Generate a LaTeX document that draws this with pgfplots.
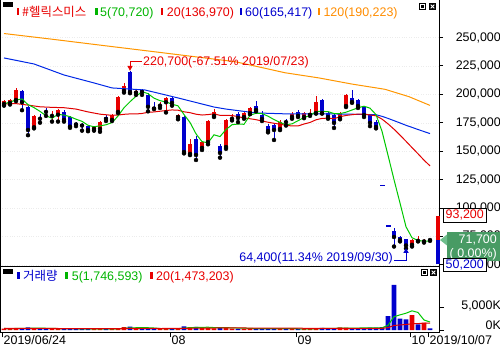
\documentclass[border=0pt]{standalone}
\usepackage{pgfplots}
\pgfplotsset{compat=1.18}
\usepackage{pgfplotstable}
\usepackage{fontspec}
\setmainfont{Liberation Sans}
\newfontfamily\kr{Noto Sans CJK KR}
\newcommand{\fs}{\fontsize{12.5}{14}\selectfont}
\definecolor{cr}{RGB}{232,0,0}
\definecolor{cb}{RGB}{0,0,205}
\definecolor{ma5}{RGB}{0,200,0}
\definecolor{ma20}{RGB}{225,0,0}
\definecolor{ma60}{RGB}{0,40,230}
\definecolor{ma120}{RGB}{255,150,0}
\definecolor{tgreen}{RGB}{0,180,0}
\definecolor{torange}{RGB}{255,140,0}
\definecolor{gbox}{RGB}{72,155,100}
\definecolor{gtri}{RGB}{110,190,140}

\pgfplotstableread{
i o h l c
0 191500 195000 190000 194000
1 192400 196000 191000 195000
2 195000 205800 194000 203800
5 171000 182000 170000 181000
8 181000 185000 176000 182000
9 182000 187000 176000 186000
15 169500 171500 168000 171000
16 169500 176500 167000 175500
18 177500 183000 176500 182000
19 184500 198500 183500 197500
20 203000 210000 201500 207500
22 201500 204500 199500 202500
26 190000 193000 188000 191000
27 193000 197500 184000 196800
29 180000 182500 178000 181500
31 147500 160700 146500 156300
33 152800 159000 151000 158000
34 158000 177500 156000 176500
35 181000 187000 180000 184400
37 153600 178500 152000 177400
38 178500 182500 177000 179500
40 180000 184500 178500 183500
41 183500 189000 182500 188000
46 169500 177000 168500 175600
48 180000 184000 178500 182700
50 180000 184500 179000 183500
51 182000 187000 181000 183600
52 183500 198500 183000 193200
56 179000 184500 178000 183500
57 189700 200000 188800 199400
68 67500 72500 66000 71700
69 71000 75500 70500 71900
70 70500 72500 69500 71400
}\redc

\pgfplotstableread{
i o h l c
3 203000 204000 186000 193000
4 189000 190000 164000 168600
6 179500 183000 175000 178500
7 185500 188000 181000 184500
10 184500 186000 176000 177500
11 180000 181000 170500 171500
12 174500 176000 172000 173500
13 173500 175000 168000 172500
14 172000 173000 167500 168600
17 180000 181500 176500 178300
21 219500 220700 201000 202000
23 203500 205000 199500 202000
24 199500 201000 185000 189000
25 188500 193000 187000 187500
28 196800 197500 190000 192400
30 180000 181000 148000 149200
32 160700 163000 142200 146600
36 154500 156000 144200 148400
39 182700 184000 175500 179200
42 189700 194400 185000 186200
43 181800 185000 176500 178300
44 172000 174000 166500 167700
45 173000 174000 159800 168600
47 176500 178500 172500 175500
49 184400 186000 180000 181000
53 195000 196000 183000 183500
54 183500 184500 178500 180000
55 181800 183000 170400 174800
58 196800 203800 192500 193200
59 195000 196000 188000 189700
60 188800 190000 180000 181800
61 181800 182500 172000 174800
62 175600 177000 170000 171200
65 79700 82000 66000 74400
66 74400 75500 70500 71700
67 72700 73000 64400 66900
71 72600 72600 71000 71700
}\bluec

\pgfplotstableread{
i v
0 320
1 260
2 380
5 420
8 250
9 300
15 220
16 250
18 260
19 420
20 600
22 420
26 240
27 300
29 380
31 600
33 420
34 560
35 380
37 640
38 300
40 280
41 330
46 280
48 260
50 230
51 260
52 430
56 560
57 520
68 3250
70 1590
}\redv

\pgfplotstableread{
i v
3 340
4 560
6 300
7 280
10 270
11 310
12 240
13 230
14 260
17 240
21 760
23 330
24 380
25 280
28 330
30 780
32 700
36 520
39 260
42 300
43 280
44 330
45 360
47 220
49 240
53 480
54 280
55 330
58 420
59 330
60 400
61 520
62 520
63 640
64 3000
65 9800
66 2500
67 2300
69 1230
71 363
}\bluev

\begin{document}
\begin{tikzpicture}[x=1bp,y=1bp]
\path[use as bounding box] (0,0) rectangle (500,350);
\coordinate (pa) at (0,84);
\coordinate (va) at (0,18);

% ---------- price panel ----------
\begin{axis}[
  at={(pa)}, anchor=south west,
  scale only axis, width=439bp, height=266bp,
  xmin=-0.667, xmax=72.5, ymin=48856, ymax=283011,
  axis line style={black, line width=1bp},
  xtick=\empty,
  ytick={50000,75000,100000,125000,150000,175000,200000,225000,250000},
  ytick pos=right, yticklabel pos=right,
  tick align=outside, major tick length=4bp,
  every tick/.style={black, line width=0.8bp},
  scaled y ticks=false,
  yticklabel style={font=\fs, anchor=east, inner sep=0pt, xshift=58bp},
  /pgf/number format/fixed, /pgf/number format/1000 sep={,},
  /pgf/number format/assume math mode=true,
  ymajorgrids, major grid style={gray!15, dotted},
  clip=false,
]
% wicks
\addplot[forget plot, only marks, mark=none, error bars/.cd, y dir=plus, y explicit, error mark=none,
  error bar style={draw=cr, line width=1bp}] table[x=i, y=l, y error expr=\thisrow{h}-\thisrow{l}] {\redc};
\addplot[forget plot, only marks, mark=none, error bars/.cd, y dir=plus, y explicit, error mark=none,
  error bar style={draw=cb, line width=1bp}] table[x=i, y=l, y error expr=\thisrow{h}-\thisrow{l}] {\bluec};
% bodies
\addplot[forget plot, only marks, mark=none, error bars/.cd, y dir=plus, y explicit, error mark=none,
  error bar style={draw=cr, line width=4.8bp}] table[x=i, y=o, y error expr=\thisrow{c}-\thisrow{o}] {\redc};
\addplot[forget plot, only marks, mark=none, error bars/.cd, y dir=plus, y explicit, error mark=none,
  error bar style={draw=cb, line width=4.8bp}] table[x=i, y=c, y error expr=\thisrow{o}-\thisrow{c}] {\bluec};
% limit-down dashes
\addplot[forget plot, only marks, mark=-, mark size=2.5bp, cb, mark options={line width=1.3bp}]
  coordinates {(63,119900) (64,83950)};
% MA120
\addplot[ma120, line width=1bp, mark=none] coordinates {
(0,253500) (8,248500) (16.3,243100) (24.7,237700) (33,232300) (38.5,228700) (41.3,225500)
(46.8,219000) (52.5,214400) (58,209000) (63.5,204400) (67.5,197900) (71,190223)};
% MA60
\addplot[ma60, line width=1bp, mark=none] coordinates {
(0,232000) (5,226700) (10,217000) (15,210000) (18,205600) (23.5,203800) (29,196800) (35,188800)
(37,187000) (42,183600) (47.5,182700) (55,182700) (60,182300) (62,182000) (63,180600) (64,178800)
(65,176800) (66,174800) (67,172700) (68,170900) (69,169000) (70,167200) (71,165417)};
% MA20
\addplot[ma20, line width=1bp, mark=none] coordinates {
(0,191500) (2,191800) (4,190500) (6,189000) (8,188500) (10,188200) (12,187000) (14,184500) (16,182500)
(18,181500) (19,181720) (20,182390) (21,182740) (22,182680) (23,183130) (24,184150) (25,184470)
(26,185100) (27,185710) (28,186230) (29,186010) (30,184590) (31,183830) (32,182490) (33,181760)
(34,182160) (35,182830) (36,181470) (37,181430) (38,181300) (39,180390) (40,179190) (41,178490)
(42,177670) (43,176490) (44,175420) (45,174480) (46,173710) (47,172640) (48,172160) (49,172130)
(50,173850) (51,175210) (52,177540) (53,178820) (54,178990) (55,178510) (56,180270) (57,181370)
(58,182050) (59,182580) (60,182490) (61,181830) (62,181080) (63,178160) (64,173980) (65,169270)
(66,164070) (67,158640) (68,153090) (69,147640) (70,142030) (71,136970)};
% MA5
\addplot[ma5, line width=1bp, mark=none] coordinates {
(0,191500) (1,193200) (2,195000) (3,195900) (4,190880) (5,188280) (6,184980) (7,181120) (8,178920)
(9,182400) (10,181700) (11,180300) (12,178100) (13,176200) (14,172720) (15,171420) (16,172220)
(17,173180) (18,175080) (19,180860) (20,188160) (21,193460) (22,198300) (23,202300) (24,200600)
(25,196600) (26,194400) (27,193260) (28,191340) (29,189840) (30,182180) (31,175240) (32,165200)
(33,158320) (34,157320) (35,164360) (36,162780) (37,168940) (38,173240) (39,173780) (40,173600)
(41,181520) (42,183280) (43,183040) (44,180740) (45,177760) (46,175280) (47,173140) (48,174020)
(49,176680) (50,179660) (51,181260) (52,184800) (53,184960) (54,184760) (55,183020) (56,183000)
(57,184240) (58,186180) (59,188120) (60,189520) (61,187780) (62,182140) (63,167480) (64,146340)
(65,124860) (66,104240) (67,83380) (68,73740) (69,71320) (70,70720) (71,70720)};
% next-day price range bar
\addplot[cr, line width=4bp, forget plot] coordinates {(72.25,71700) (72.25,93200)};
\addplot[cb, line width=4bp, forget plot] coordinates {(72.25,50200) (72.25,71700)};
\coordinate (hi) at (axis cs:21,220700);
\coordinate (lo) at (axis cs:67,64400);
\end{axis}

% ---------- volume panel ----------
\begin{axis}[
  at={(va)}, anchor=south west,
  scale only axis, width=439bp, height=66bp,
  xmin=-0.667, xmax=72.5, ymin=-435, ymax=13913,
  axis line style={black, line width=1bp},
  xtick={-0.33,27.67,48.67,67.67,70.67},
  xticklabels={2019/06/24,08,09,10,2019/10/07},
  xtick pos=bottom,
  scaled y ticks=false,
  ytick={5000}, yticklabels={{5{,}000K}},
  extra y ticks={0}, extra y tick labels={0K},
  extra y tick style={yticklabel style={yshift=4bp}},
  ytick pos=right, yticklabel pos=right,
  tick align=outside, major tick length=5bp,
  every tick/.style={black, line width=0.8bp},
  yticklabel style={font=\fs, anchor=east, inner sep=0pt, xshift=57bp, yshift=1bp},
  xticklabel style={font=\fs, anchor=west, inner sep=0pt, xshift=1.5bp, yshift=-3bp},
  clip=true,
]
\addplot[ybar, bar width=4.8bp, bar shift=0pt, fill=cr, draw=none] table[x=i, y=v] {\redv};
\addplot[ybar, bar width=4.8bp, bar shift=0pt, fill=cb, draw=none] table[x=i, y=v] {\bluev};
\addplot[ma5, line width=1bp, mark=none] coordinates {
(0,330) (1,320) (2,330) (3,340) (4,372) (5,392) (6,400) (7,380) (8,362) (9,310) (10,280) (11,282)
(12,274) (13,270) (14,262) (15,252) (16,240) (17,240) (18,246) (19,278) (20,354) (21,456) (22,492)
(23,506) (24,498) (25,434) (26,330) (27,306) (28,306) (29,306) (30,406) (31,478) (32,558) (33,576)
(34,612) (35,532) (36,516) (37,504) (38,480) (39,420) (40,400) (41,362) (42,294) (43,290) (44,304)
(45,320) (46,310) (47,294) (48,290) (49,272) (50,246) (51,242) (52,284) (53,328) (54,336) (55,356)
(56,416) (57,434) (58,422) (59,432) (60,446) (61,438) (62,438) (63,482) (64,1016) (65,2896)
(66,3292) (67,3648) (68,4170) (69,3816) (70,2174) (71,1747)};
\addplot[ma20, line width=1bp, mark=none] coordinates {
(0,340) (4,335) (8,330) (12,320) (16,310) (19,306) (20,320) (21,345) (22,347) (23,346) (24,337)
(25,330) (26,327) (27,328) (28,332) (29,336) (30,362) (31,376) (32,399) (33,409) (34,424) (35,432)
(36,445) (37,465) (38,467) (39,459) (40,443) (41,422) (42,416) (43,413) (44,411) (45,415) (46,417)
(47,413) (48,409) (49,402) (50,375) (51,358) (52,344) (53,347) (54,333) (55,331) (56,333) (57,327)
(58,333) (59,336) (60,342) (61,352) (62,363) (63,381) (64,514) (65,986) (66,1097) (67,1201)
(68,1351) (69,1400) (70,1468) (71,1473)};
\end{axis}

% ---------- top legend ----------
\fill[black] (2.7,343.3) rectangle (12.7,348.3);
\fill[cr] (16.7,335) rectangle (19.3,342);
\node[anchor=base west, inner sep=0, text=cr, font=\fs] at (22,334) {\kr\#헬릭스미스};
\fill[tgreen] (95,335) rectangle (97.7,342);
\node[anchor=base west, inner sep=0, text=tgreen, font=\fs] at (100,334) {5(70,720)};
\fill[cr] (160.7,335) rectangle (163.3,342);
\node[anchor=base west, inner sep=0, text=cr, font=\fs] at (166.7,334) {20(136,970)};
\fill[cb] (239.5,335) rectangle (242,342);
\node[anchor=base west, inner sep=0, text=cb, font=\fs] at (245,334) {60(165,417)};
\fill[torange] (317.7,335) rectangle (320.3,342);
\node[anchor=base west, inner sep=0, text=torange, font=\fs] at (323.3,334) {120(190,223)};
\draw[black, line width=1] (419.8,340.5) rectangle (425.8,346.5);
\fill[black] (421.3,342) rectangle (424.3,345);
\fill[black] (429,340) rectangle (436,347);
\draw[white, line width=1] (430.7,341.7) -- (434.3,345.3) (430.7,345.3) -- (434.3,341.7);

% ---------- volume legend ----------
\fill[black] (3,76) rectangle (13,81);
\fill[cb] (17,70.7) rectangle (19.6,77.7);
\node[anchor=base west, inner sep=0, text=cb, font=\fs] at (23,69.3) {\kr 거래량};
\fill[tgreen] (65,70.7) rectangle (67.7,77.7);
\node[anchor=base west, inner sep=0, text=tgreen, font=\fs] at (71.7,69.3) {5(1,746,593)};
\fill[cr] (150,70.7) rectangle (152.7,77.7);
\node[anchor=base west, inner sep=0, text=cr, font=\fs] at (156,69.3) {20(1,473,203)};
\draw[black, line width=1] (421.2,74.5) rectangle (427.2,80.5);
\fill[black] (422.7,76) rectangle (425.7,79);
\fill[black] (430,74) rectangle (437,81);
\draw[white, line width=1] (431.7,75.7) -- (435.3,79.3) (431.7,79.3) -- (435.3,75.7);

% ---------- annotations ----------
\fill[cr] (hi) -- ++(-2.7,5) -- ++(5.4,0) -- cycle;
\draw[cr, line width=1] ([yshift=4.5bp]hi) -- ++(0,4.6) -- ++(11.7,0);
\node[anchor=base west, inner sep=0, text=cr, font=\fs] at ([xshift=13bp,yshift=5.1bp]hi) {220,700(-67.51\% 2019/07/23)};
\fill[cb] (lo) -- ++(-2.7,-4.5) -- ++(5.4,0) -- cycle;
\draw[cb, line width=1] ([yshift=-4bp]lo) -- ++(0,-7.7) -- ++(-12,0);
\node[anchor=base east, inner sep=0, text=cb, font=\fs] at ([xshift=-13bp,yshift=-13.4bp]lo) {64,400(11.34\% 2019/09/30)};

% ---------- right price boxes ----------
\filldraw[fill=white, draw=black, line width=0.8] (443,128) rectangle (486.5,141.5);
\node[anchor=east, inner sep=0, text=cr, font=\fs] at (484,134.8) {93,200};
\fill[gbox] (447,89.3) rectangle (500,118.3);
\fill[gtri] (440,110) -- (447,115.5) -- (447,104.5) -- cycle;
\node[anchor=east, inner sep=0, text=white, font=\fs] at (497,110) {71,700};
\node[anchor=east, inner sep=0, text=white, font=\fs] at (497,96) {( 0.00\%)};
\filldraw[fill=white, draw=black, line width=0.8] (443,79) rectangle (486.5,91.5);
\node[anchor=east, inner sep=0, text=cb, font=\fs] at (484,85) {50,200};
\end{tikzpicture}
\end{document}
